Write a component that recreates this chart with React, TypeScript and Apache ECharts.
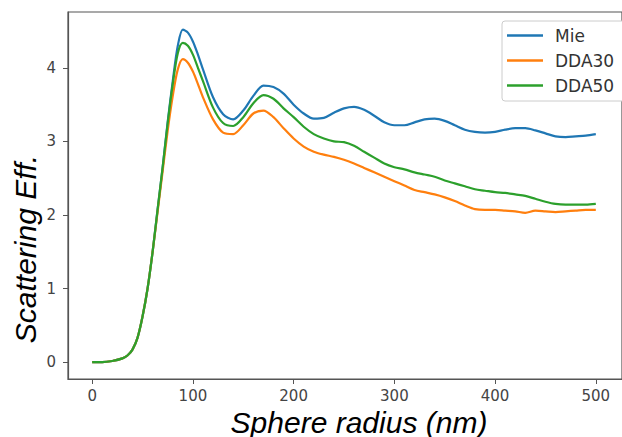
import React, { useEffect, useRef } from "react";
import * as echarts from "echarts";

const radius = [0, 10, 20, 30, 35, 40, 45, 50, 55, 60, 65, 70, 75, 80, 85, 90, 95, 100, 105, 110, 120, 130, 140, 150, 160, 170, 180, 190, 200, 210, 220, 230, 240, 250, 260, 270, 280, 290, 300, 310, 320, 330, 340, 350, 360, 370, 380, 390, 400, 410, 420, 430, 440, 450, 460, 470, 480, 490, 500];

const mie = [0, 0, 0.015, 0.05, 0.09, 0.17, 0.33, 0.62, 1.0, 1.5, 2.08, 2.65, 3.27, 3.82, 4.3, 4.52, 4.48, 4.36, 4.18, 3.98, 3.6, 3.37, 3.3, 3.42, 3.62, 3.76, 3.74, 3.65, 3.5, 3.38, 3.31, 3.32, 3.39, 3.45, 3.47, 3.43, 3.35, 3.26, 3.22, 3.22, 3.26, 3.3, 3.31, 3.28, 3.22, 3.16, 3.13, 3.12, 3.13, 3.16, 3.18, 3.18, 3.15, 3.11, 3.07, 3.06, 3.07, 3.08, 3.1];

const dda30 = [0, 0, 0.015, 0.05, 0.09, 0.17, 0.33, 0.62, 1.0, 1.5, 2.05, 2.6, 3.15, 3.62, 3.98, 4.12, 4.07, 3.95, 3.78, 3.6, 3.3, 3.12, 3.1, 3.22, 3.38, 3.42, 3.33, 3.18, 3.04, 2.93, 2.86, 2.82, 2.79, 2.75, 2.7, 2.64, 2.58, 2.52, 2.46, 2.4, 2.34, 2.31, 2.28, 2.24, 2.19, 2.13, 2.08, 2.07, 2.07, 2.06, 2.05, 2.03, 2.06, 2.05, 2.04, 2.05, 2.06, 2.07, 2.07];

const dda50 = [0, 0, 0.015, 0.05, 0.09, 0.17, 0.33, 0.62, 1.0, 1.5, 2.08, 2.65, 3.25, 3.78, 4.2, 4.34, 4.3, 4.18, 4.0, 3.82, 3.46, 3.25, 3.21, 3.33, 3.52, 3.63, 3.58, 3.45, 3.33, 3.2, 3.1, 3.04, 3.0, 2.99, 2.94, 2.86, 2.78, 2.7, 2.65, 2.62, 2.58, 2.55, 2.52, 2.47, 2.43, 2.39, 2.35, 2.33, 2.31, 2.3, 2.28, 2.26, 2.22, 2.18, 2.15, 2.14, 2.14, 2.14, 2.15];

const xTicks = [0, 100, 200, 300, 400, 500];
const yTicks = [0, 1, 2, 3, 4];

const seriesNames = ["Mie", "DDA30", "DDA50"];
const seriesColors = ["#1f77b4", "#ff7f0e", "#2ca02c"];

export default function App() {
  const ref = useRef<HTMLDivElement>(null);
  useEffect(() => {
    if (!ref.current) return;
    const chart = echarts.init(ref.current, undefined, { renderer: "svg" });
    const allValues = [mie, dda30, dda50];
    const tickFont = { fontFamily: "DejaVu Sans", fontSize: 15, color: "#444" };
    chart.setOption({
      animation: false,
      backgroundColor: "#fff",
      grid: {
        left: 68,
        top: 12,
        right: -9,
        bottom: 58,
        show: true,
        borderColor: "#555",
        borderWidth: 1.2,
      },
      legend: {
        data: seriesNames,
        orient: "vertical",
        left: 502,
        top: 21,
        padding: [6, 14, 7, 5],
        icon: "rect",
        itemWidth: 36,
        itemHeight: 2.5,
        itemGap: 8,
        borderColor: "#ccc",
        borderWidth: 1,
        borderRadius: 3,
        backgroundColor: "#fff",
        textStyle: {
          fontFamily: "DejaVu Sans",
          fontSize: 17,
          color: "#333",
          padding: [0, 0, 0, 7],
        },
      },
      xAxis: {
        type: "value",
        min: -24,
        max: 526,
        splitLine: { show: false },
        axisLine: { show: true, onZero: false, lineStyle: { color: "#555", width: 1.2 } },
        axisTick: { show: true, length: 5, lineStyle: { color: "#555" }, customValues: xTicks },
        axisLabel: { ...tickFont, margin: 9, customValues: xTicks },
      },
      yAxis: {
        type: "value",
        min: -0.23,
        max: 4.76,
        splitLine: { show: false },
        axisLine: { show: true, onZero: false, lineStyle: { color: "#555", width: 1.2 } },
        axisTick: { show: true, length: 5, lineStyle: { color: "#555" }, customValues: yTicks },
        axisLabel: { ...tickFont, margin: 12, customValues: yTicks },
      },
      graphic: [
        {
          type: "text",
          x: 359,
          y: 422,
          style: {
            text: "Sphere radius (nm)",
            font: "italic 30px 'Liberation Sans', Arial, sans-serif",
            fill: "#000",
            align: "center",
            verticalAlign: "middle",
          },
        },
        {
          type: "text",
          x: 25,
          y: 249,
          rotation: Math.PI / 2,
          style: {
            text: "Scattering Eff.",
            font: "italic 30px 'Liberation Sans', Arial, sans-serif",
            fill: "#000",
            align: "center",
            verticalAlign: "middle",
          },
        },
      ],
      series: seriesNames.map((name, i) => ({
        name,
        type: "line",
        data: radius.map((r, j) => [r, allValues[i][j]]),
        symbol: "none",
        smooth: 0.3,
        lineStyle: { color: seriesColors[i], width: 2.2 },
        itemStyle: { color: seriesColors[i] },
      })),
    });
    return () => chart.dispose();
  }, []);
  return (
    <div
      ref={ref}
      style={{ position: "absolute", left: 0, top: 0, width: 622, height: 437 }}
    />
  );
}
